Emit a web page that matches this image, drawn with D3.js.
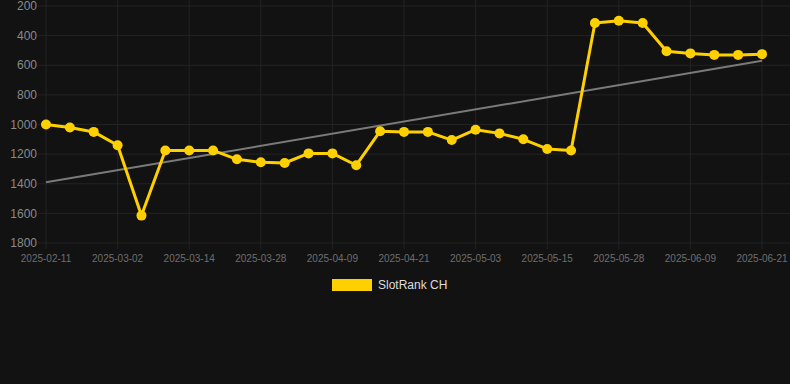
<!DOCTYPE html>
<html>
<head>
<meta charset="utf-8">
<script src="https://cdn.jsdelivr.net/npm/d3@7"></script>
<style>
  html, body { margin: 0; padding: 0; background: #121212; }
  svg { display: block; font-family: "Liberation Sans", Arial, sans-serif; }
</style>
</head>
<body>
<div id="chart"></div>
<script>
// Dates on the category axis (one per point)
var dates = ["2025-02-11", "2025-02-17", "2025-02-24", "2025-03-02", "2025-03-06", "2025-03-10",
	"2025-03-14", "2025-03-19", "2025-03-23", "2025-03-28", "2025-04-01", "2025-04-05",
	"2025-04-09", "2025-04-13", "2025-04-17", "2025-04-21", "2025-04-25", "2025-04-29",
	"2025-05-03", "2025-05-07", "2025-05-11", "2025-05-15", "2025-05-19", "2025-05-24",
	"2025-05-28", "2025-06-01", "2025-06-05", "2025-06-09", "2025-06-13", "2025-06-17",
	"2025-06-21"];

// SlotRank CH values
var rankValues = [1000, 1020, 1050, 1140, 1615, 1175, 1175, 1175, 1235, 1255, 1260, 1195,
	1195, 1275, 1045, 1050, 1050, 1105, 1035, 1060, 1100, 1165, 1175, 315,
	300, 315, 505, 520, 530, 530, 525];

// trend line, start and end value
var trendValues = [1390, 570];

var yTicks = [200, 400, 600, 800, 1000, 1200, 1400, 1600, 1800];
var seriesName = "SlotRank CH";

var width = 790, height = 384;

var svg = d3.select("#chart")
	.append("svg")
	.attr("width", width)
	.attr("height", height);

// scales
var x = d3.scalePoint().domain(dates).range([46, 762]);
var y = d3.scaleLinear().domain([200, 1800]).range([6, 243]);

// grid
svg.append("g")
	.selectAll("line")
	.data(yTicks)
	.enter().append("line")
	.attr("x1", 38).attr("x2", width)
	.attr("y1", d => y(d)).attr("y2", d => y(d))
	.attr("stroke", "#232323")
	.attr("stroke-width", 1);

var labelDates = dates.filter((d, i) => i % 3 === 0);

svg.append("g")
	.selectAll("line")
	.data(labelDates)
	.enter().append("line")
	.attr("x1", d => x(d)).attr("x2", d => x(d))
	.attr("y1", 0).attr("y2", 249)
	.attr("stroke", "#232323")
	.attr("stroke-width", 1);

// y axis labels
svg.append("g")
	.selectAll("text")
	.data(yTicks)
	.enter().append("text")
	.attr("x", 37)
	.attr("y", d => y(d))
	.attr("dy", "0.35em")
	.attr("text-anchor", "end")
	.attr("fill", "#8a8a8a")
	.attr("font-size", "12px")
	.text(d => d);

// x axis labels
svg.append("g")
	.selectAll("text")
	.data(labelDates)
	.enter().append("text")
	.attr("x", d => x(d))
	.attr("y", 262)
	.attr("text-anchor", "middle")
	.attr("fill", "#6e6e6e")
	.attr("font-size", "10px")
	.text(d => d);

// trend line
svg.append("line")
	.attr("x1", x(dates[0])).attr("y1", y(trendValues[0]))
	.attr("x2", x(dates[dates.length - 1])).attr("y2", y(trendValues[1]))
	.attr("stroke", "#7a7a7a")
	.attr("stroke-width", 2);

// series line
var line = d3.line()
	.x((d, i) => x(dates[i]))
	.y(d => y(d));

svg.append("path")
	.datum(rankValues)
	.attr("d", line)
	.attr("fill", "none")
	.attr("stroke", "#ffd000")
	.attr("stroke-width", 3)
	.attr("stroke-linejoin", "round");

svg.append("g")
	.selectAll("circle")
	.data(rankValues)
	.enter().append("circle")
	.attr("cx", (d, i) => x(dates[i]))
	.attr("cy", d => y(d))
	.attr("r", 5)
	.attr("fill", "#ffd000");

// legend
var legend = svg.append("g").attr("transform", "translate(332, 279)");
legend.append("rect")
	.attr("width", 40).attr("height", 12)
	.attr("fill", "#ffd000");
legend.append("text")
	.attr("x", 46).attr("y", 6)
	.attr("dy", "0.35em")
	.attr("fill", "#dddddd")
	.attr("font-size", "12px")
	.text(seriesName);
</script>
</body>
</html>
